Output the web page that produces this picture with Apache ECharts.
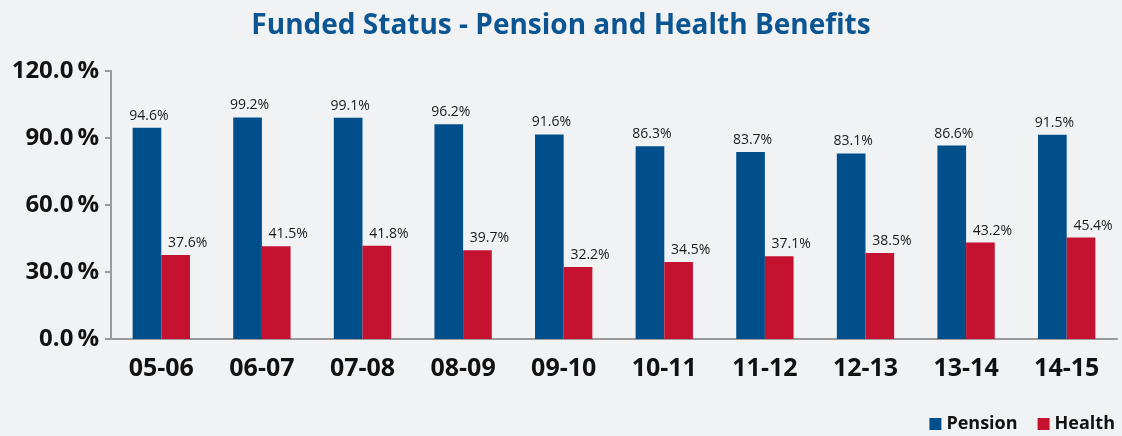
<!DOCTYPE html>
<html>
<head>
<meta charset="utf-8">
<script src="https://cdn.jsdelivr.net/npm/echarts@6/dist/echarts.min.js"></script>
<style>
  html, body { margin: 0; padding: 0; background: #f1f2f4; }
  #chart { width: 1122px; height: 436px; }
</style>
</head>
<body>
<div id="chart"></div>
<script>
// fiscal years
var years = ['05-06', '06-07', '07-08', '08-09', '09-10', '10-11', '11-12', '12-13', '13-14', '14-15'];
// funded ratio, percent
var pension = [94.6, 99.2, 99.1, 96.2, 91.6, 86.3, 83.7, 83.1, 86.6, 91.5];
var health = [37.6, 41.5, 41.8, 39.7, 32.2, 34.5, 37.1, 38.5, 43.2, 45.4];
var yTicks = [0, 30, 60, 90, 120];

var myChart = echarts.init(document.getElementById('chart'));

function pct(p) { return p.value.toFixed(1) + '%'; }

myChart.setOption({
  backgroundColor: '#f1f2f4',
  animation: false,
  title: {
    text: 'Funded Status - Pension and Health Benefits',
    left: 'center',
    top: 7,
    textStyle: { color: '#0b5592', fontSize: 28, fontWeight: 'bold', fontFamily: 'Open Sans' }
  },
  legend: {
    right: 2,
    bottom: -2,
    itemWidth: 12,
    itemHeight: 12,
    itemGap: 20,
    icon: 'rect',
    textStyle: { color: '#111', fontSize: 18, fontWeight: 'bold', fontFamily: 'Open Sans' },
    data: ['Pension', 'Health']
  },
  grid: { left: 111, right: 5, top: 71, bottom: 97 },
  xAxis: {
    type: 'category',
    data: years,
    axisLine: { lineStyle: { color: '#9a9a9a', width: 2 } },
    axisTick: { show: false },
    axisLabel: { color: '#111', fontSize: 25, fontWeight: 'bold', fontFamily: 'Open Sans', margin: 17 }
  },
  yAxis: {
    type: 'value',
    min: yTicks[0],
    max: yTicks[yTicks.length - 1],
    interval: 30,
    axisLine: { show: true, lineStyle: { color: '#9a9a9a', width: 2 } },
    axisTick: { show: true, length: 6, lineStyle: { color: '#9a9a9a', width: 2 } },
    splitLine: { show: false },
    axisLabel: {
      color: '#111', fontSize: 24, fontWeight: 'bold', fontFamily: 'Open Sans', margin: 12,
      formatter: function (v) { return v.toFixed(1) + '\u2009%'; }
    }
  },
  series: [
    {
      name: 'Pension', type: 'bar', data: pension,
      itemStyle: { color: '#004f8a' },
      barGap: '0%', barCategoryGap: '43%',
      label: {
        show: true, position: 'top', distance: 5, offset: [2, 0],
        color: '#1a1a1a', fontSize: 14, fontFamily: 'Open Sans', formatter: pct
      }
    },
    {
      name: 'Health', type: 'bar', data: health,
      itemStyle: { color: '#c41230' },
      label: {
        show: true, position: 'top', distance: 5, offset: [12, 0],
        color: '#1a1a1a', fontSize: 14, fontFamily: 'Open Sans', formatter: pct
      }
    }
  ]
});
</script>
</body>
</html>
